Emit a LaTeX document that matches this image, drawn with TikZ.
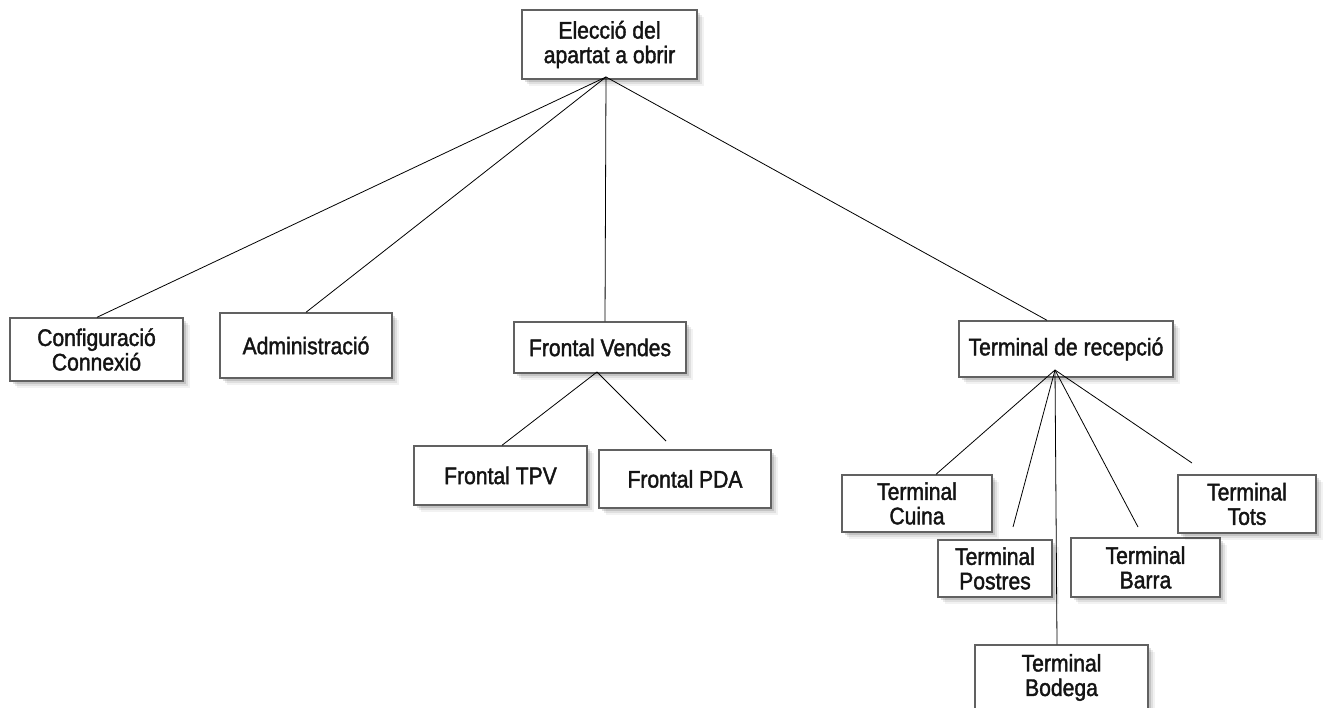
\documentclass[tikz,border=0pt]{standalone}
\usepackage{fontspec}
\setmainfont{Liberation Sans}[FakeStretch=0.88,FakeBold=1.6]
\usetikzlibrary{shadows}
\begin{document}
\begin{tikzpicture}[x=1pt,y=-1pt,
  box/.style={draw=black!62, line width=1.4pt, fill=white, inner sep=0pt,
    align=center, text=black!92, font=\fontsize{24}{24.5}\selectfont,
    general shadow={shadow xshift=3pt, shadow yshift=-3pt, fill=black, opacity=0.12},
    general shadow={shadow xshift=5pt, shadow yshift=-5pt, fill=black, opacity=0.08},
    general shadow={shadow xshift=7pt, shadow yshift=-7pt, fill=black, opacity=0.05}},
  link/.style={draw=black, line width=0.8pt}]
\useasboundingbox (0,0) rectangle (1324,708);
\fill[white] (0,0) rectangle (1324,708);
% nodes
\node[box, minimum width=175pt, minimum height=69pt] (top) at (609.5,44.5) {Elecció del\\apartat a obrir};
\node[box, minimum width=173pt, minimum height=63pt] (conf) at (96.5,349.5) {Configuració\\Connexió};
\node[box, minimum width=172pt, minimum height=65pt] (admin) at (306,345.5) {Administració};
\node[box, minimum width=172pt, minimum height=51pt] (fv) at (600,347.5) {Frontal Vendes};
\node[box, minimum width=214pt, minimum height=56pt] (tr) at (1066,349) {Terminal de recepció};
\node[box, minimum width=173pt, minimum height=59pt] (tpv) at (500.5,475.5) {Frontal TPV};
\node[box, minimum width=172pt, minimum height=58pt] (pda) at (685,479) {Frontal PDA};
\node[box, minimum width=150pt, minimum height=57pt] (cuina) at (917,503.5) {Terminal\\Cuina};
\node[box, minimum width=114pt, minimum height=57pt] (postres) at (995,568.5) {Terminal\\Postres};
\node[box, minimum width=149pt, minimum height=59pt] (barra) at (1145.5,567.5) {Terminal\\Barra};
\node[box, minimum width=138pt, minimum height=58pt] (tots) at (1247,504) {Terminal\\Tots};
\node[box, minimum width=173pt, minimum height=65pt] (bodega) at (1061.5,677.5) {Terminal\\Bodega};
% connector points
\coordinate (topA) at (606,77);
\coordinate (fvA) at (597,372);
\coordinate (trA) at (1055,370);
\coordinate (pdaE) at (666,441);
\coordinate (postresE) at (1013,527);
\coordinate (barraE) at (1138,527);
\coordinate (totsE) at (1192,463);
% connectors
\draw[link] (topA) -- ([xshift=0.5pt]conf.north);
\draw[link] (topA) -- (admin.north);
\draw[link] (topA) -- ([xshift=5pt]fv.north);
\draw[link] (topA) -- ([xshift=-19pt]tr.north);
\draw[link] (fvA) -- ([xshift=1.5pt]tpv.north);
\draw[link] (fvA) -- (pdaE);
\draw[link] (trA) -- ([xshift=19pt]cuina.north);
\draw[link] (trA) -- (postresE);
\draw[link] (trA) -- ([xshift=-4.5pt]bodega.north);
\draw[link] (trA) -- (barraE);
\draw[link] (trA) -- (totsE);
\end{tikzpicture}
\end{document}
